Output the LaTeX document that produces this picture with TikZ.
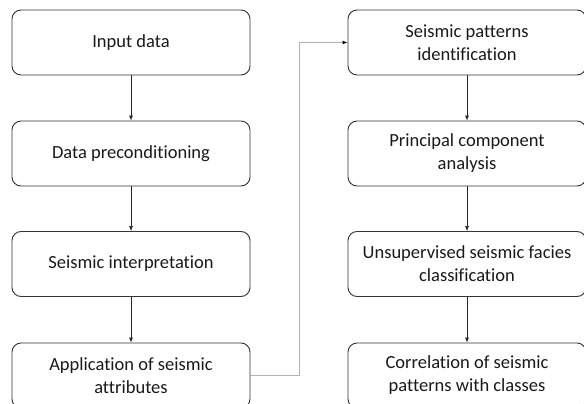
\documentclass[tikz,border=0pt]{standalone}
\usepackage{fontspec}
\setmainfont[Ligatures=NoCommon]{Carlito}
\usepackage{tikz}
\usetikzlibrary{calc,positioning,arrows.meta}

\begin{document}
\begin{tikzpicture}[x=1pt,y=-1pt,>={Latex[length=5pt,width=4pt]},
    stagebox/.style={draw=black!80,line width=0.9pt,rectangle,rounded corners=9pt,align=center,
      minimum width=238pt,minimum height=65pt,inner sep=0pt,font=\fontsize{18.5}{23}\selectfont,text=black!90},
    flow/.style={->,line width=0.6pt,draw=black!85},
    jump/.style={-{Latex[length=5pt,width=4pt,black]},line width=0.9pt,draw=black!30}]

    \useasboundingbox (0,0) rectangle (584,404);
    \clip (0,0) rectangle (584,404);

    % left column
    \node (input) at (131,42.5) [stagebox] {Input data};
    \node (precond) at (131,153.5) [stagebox] {Data preconditioning};
    \node (interp) at (131,264) [stagebox] {Seismic interpretation};
    \node (attrib) at (131,375.5) [stagebox] {Application of seismic\\attributes};
    % right column
    \node (patterns) at (467,42.5) [stagebox] {Seismic patterns\\identification};
    \node (pca) at (467,153.5) [stagebox] {Principal component\\analysis};
    \node (facies) at (467,264) [stagebox] {Unsupervised seismic facies\\classification};
    \node (correl) at (467,375.5) [stagebox] {Correlation of seismic\\patterns with classes};

    \draw[flow] (input) -- (precond);
    \draw[flow] (precond) -- (interp);
    \draw[flow] (interp) -- (attrib);
    \draw[flow] (patterns) -- (pca);
    \draw[flow] (pca) -- (facies);
    \draw[flow] (facies) -- (correl);

    % link between the columns
    \coordinate (bend) at (299,375.5);
    \draw[jump] (attrib.east) -- (bend) -- (bend |- patterns.west) -- (patterns.west);

  \end{tikzpicture}
\end{document}
